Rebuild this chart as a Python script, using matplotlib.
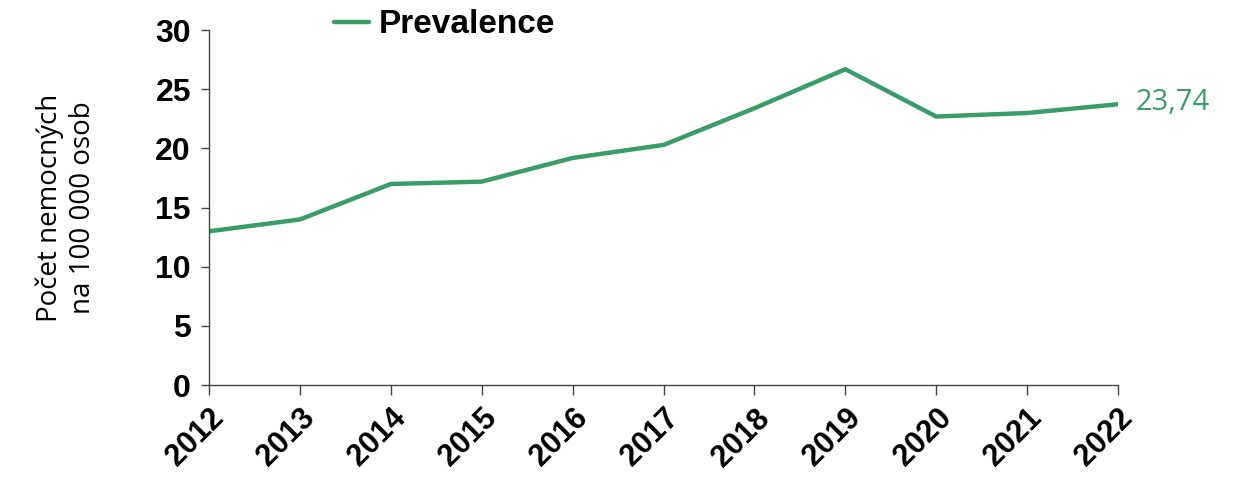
import matplotlib
matplotlib.use("Agg")
import matplotlib.pyplot as plt

# Data
years = ["2012", "2013", "2014", "2015", "2016", "2017",
         "2018", "2019", "2020", "2021", "2022"]
prevalence = [13.0, 14.0, 17.0, 17.2, 19.2, 20.3, 23.4, 26.7, 22.7, 23.0, 23.74]
last_label = "23,74"

plt.rcParams['font.family'] = ['Liberation Sans', 'DejaVu Sans']

green = '#389d69'

fig = plt.figure(figsize=(12.34, 4.79), dpi=100)
ax = fig.add_axes([0.1694, 0.196, 0.7366, 0.741])

x = list(range(len(years)))
ax.plot(x, prevalence, color=green, linewidth=3.2, label='Prevalence',
        solid_capstyle='round', solid_joinstyle='miter')

ax.annotate(last_label, xy=(x[-1], prevalence[-1]), xytext=(13, 1),
            textcoords='offset points', va='center', ha='left',
            color=green, fontsize=21, family=['Open Sans', 'DejaVu Sans'])

ax.set_xlim(0, len(years) - 1)
ax.set_ylim(0, 30)
ax.set_yticks(range(0, 31, 5))
ax.set_xticks(x)
ax.set_xticklabels(years, rotation=45, ha='right', rotation_mode='anchor',
                   fontsize=22, fontweight='bold')
for lbl in ax.get_yticklabels():
    lbl.set_fontsize(23)
    lbl.set_fontweight('bold')

ax.tick_params(axis='y', direction='out', length=6, width=1, color='#444444', pad=7)
ax.tick_params(axis='x', direction='out', length=7, width=1, color='#444444', pad=6)

for side in ['top', 'right']:
    ax.spines[side].set_visible(False)
for side in ['left', 'bottom']:
    ax.spines[side].set_color('#444444')
    ax.spines[side].set_linewidth(1)

ax.set_ylabel('Počet nemocných\nna 100 000 osob', fontsize=20,
              family=['Open Sans', 'DejaVu Sans'], labelpad=42, linespacing=1.25)

leg = fig.legend(loc='center left', bbox_to_anchor=(0.246, 0.948), frameon=False,
                 handlelength=1.05, handletextpad=0.3,
                 prop={'size': 24, 'weight': 'bold'})

fig.savefig('out.png', dpi=100)
